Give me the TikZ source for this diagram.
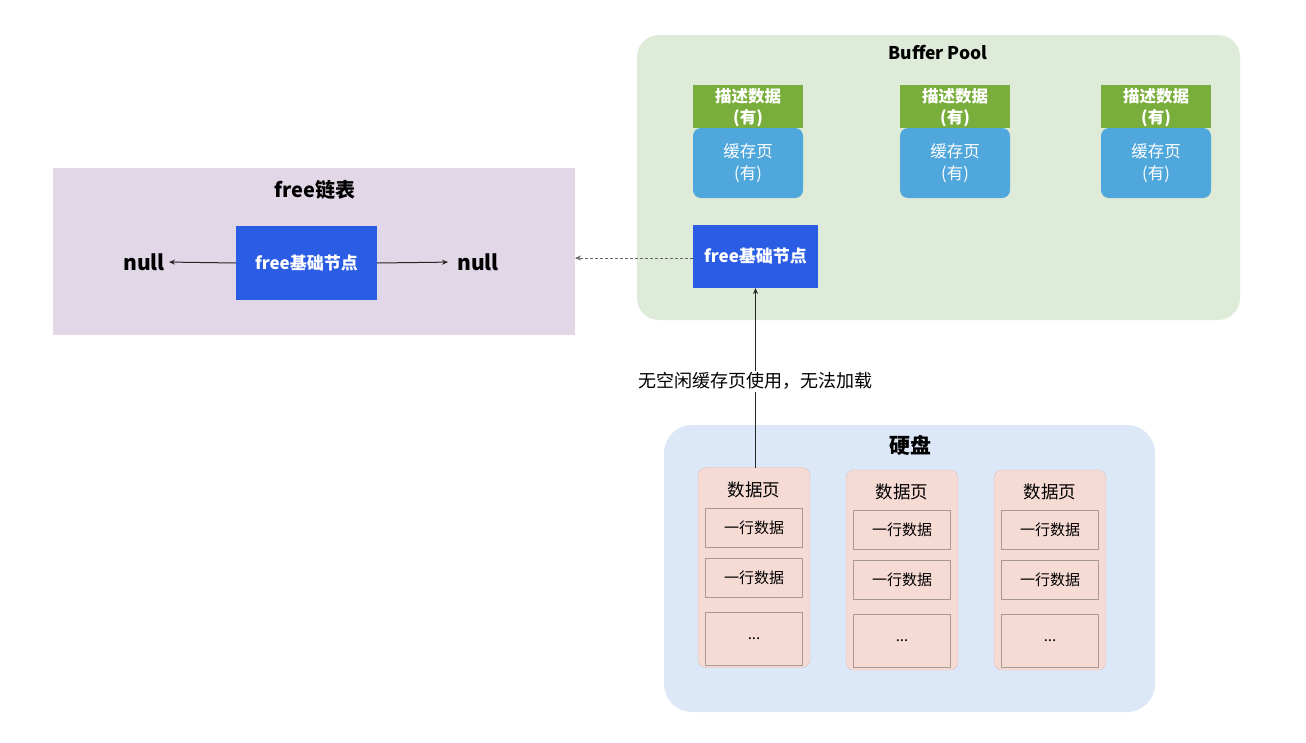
\documentclass[tikz,border=0pt]{standalone}
\usepackage{fontspec}
\setmainfont{Noto Sans CJK SC}
\usetikzlibrary{arrows.meta}
\definecolor{lav}{HTML}{E1D7E7}
\definecolor{poolg}{HTML}{DEEBD8}
\definecolor{hdrg}{HTML}{7AAE3C}
\definecolor{cacheb}{HTML}{50A7DC}
\definecolor{freeb}{HTML}{2A5CE4}
\definecolor{diskb}{HTML}{DCE8F7}
\definecolor{pagep}{HTML}{F6DAD4}
\definecolor{rowline}{HTML}{A89896}
\tikzset{
  box/.style={inner sep=0pt, outer sep=0pt},
  hdr/.style={box, fill=hdrg, minimum width=110pt, minimum height=43pt, text=white, font=\fontsize{16.5}{21}\selectfont\bfseries, align=center},
  cache/.style={box, fill=cacheb, rounded corners=8pt, minimum width=110pt, minimum height=70pt, text=white, font=\fontsize{16.5}{22}\selectfont, align=center},
  freenode/.style={box, fill=freeb, text=white, font=\fontsize{17}{19}\selectfont\bfseries},
  page/.style={box, fill=pagep, draw=pagep!88!black, line width=0.4pt, rounded corners=8pt, minimum width=112pt, minimum height=200pt},
  row/.style={box, fill=pagep, draw=rowline, line width=0.5pt, minimum width=97pt, font=\fontsize{15}{17}\selectfont},
  ttl/.style={font=\fontsize{17.5}{19}\selectfont\bfseries, inner sep=0pt},
  nul/.style={font=\fontsize{21}{23}\selectfont\bfseries, inner sep=0pt},
  arr/.style={-{Stealth[length=6pt,width=5pt,open]}, line width=1pt, draw=black!85},
}
\begin{document}
\begin{tikzpicture}[x=1pt,y=-1pt]
\useasboundingbox (0,0) rectangle (1306,742);
\fill[white] (0,0) rectangle (1306,742);
% free list
\node[box, fill=lav, minimum width=522pt, minimum height=167pt] (fl) at (314,251.5) {};
\node[ttl, font=\fontsize{20}{22}\selectfont\bfseries] (flt) at (315,190) {free链表};
\node[freenode, minimum width=141pt, minimum height=74pt] (ff) at (306.5,263) {free基础节点};
\node[nul] (n1) at (144,262) {null};
\node[nul] (n2) at (478,262) {null};
\draw[arr, shorten >=4pt] (ff.west) -- (n1.east);
\draw[arr, shorten >=9pt] (ff.east) -- (n2.west);
% buffer pool
\node[box, fill=poolg, rounded corners=22pt, minimum width=603pt, minimum height=285pt] (bp) at (938.5,177.5) {};
\node[ttl] (bpt) at (938,53) {Buffer Pool};
\foreach \i/\x in {1/748, 2/955, 3/1156} {
  \node[hdr] (h\i) at (\x,106.5) {};
  \node[text=white, font=\fontsize{16.5}{21}\selectfont\bfseries, align=center, inner sep=0pt] (ht\i) at (\x,108) {描述数据\\(有)};
  \node[cache] (c\i) at (\x,163) {缓存页\\(有)};
}
\node[freenode, minimum width=125pt, minimum height=63pt] (bf) at (755.5,256.5) {free基础节点};
\coordinate (dl) at (575,258);
\draw[-{Stealth[length=6pt,width=5pt]}, dashed, dash pattern=on 3pt off 2pt, line width=0.8pt, draw=black!60] (bf.west |- dl) -- (dl);
% disk
\node[box, fill=diskb, rounded corners=28pt, minimum width=491pt, minimum height=287pt] (dk) at (909.5,568.5) {};
\node[ttl, font=\fontsize{21}{23}\selectfont\bfseries] (dkt) at (910,445) {硬盘};
\foreach \i/\x/\y in {1/754/567.5, 2/902/570, 3/1050/570} {
  \node[page] (p\i) at (\x,\y) {};
  \node[font=\fontsize{17.5}{19}\selectfont, inner sep=0pt] (pt\i) at (\x,\y-78) {数据页};
  \node[row, minimum height=39pt] (ra\i) at (\x,\y-40) {一行数据};
  \node[row, minimum height=39pt] (rb\i) at (\x,\y+10) {一行数据};
  \node[row, minimum height=53pt] (rc\i) at (\x,\y+71) {...};
}
\draw[arr] (p1.north -| bf.south) -- node[fill=white, font=\fontsize{18}{20}\selectfont, inner sep=2pt, pos=0.48] (lbl) {无空闲缓存页使用，无法加载} (bf.south);
\end{tikzpicture}
\end{document}
